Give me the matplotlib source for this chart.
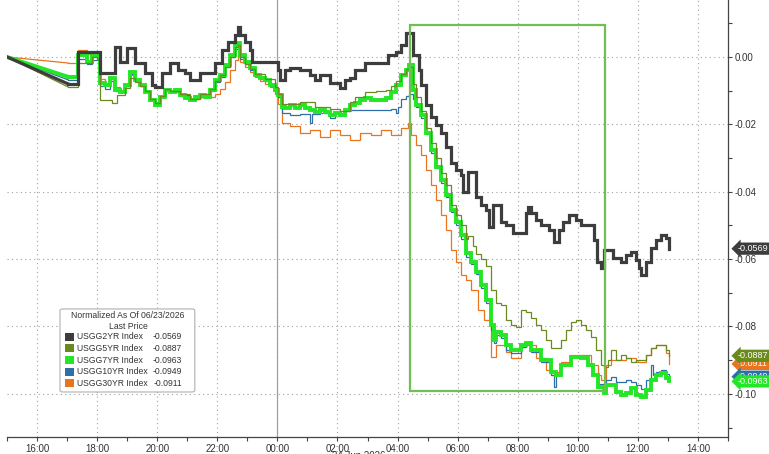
import matplotlib
matplotlib.use("Agg")
import matplotlib.pyplot as plt
import matplotlib.dates as mdates
import matplotlib.ticker as mticker
import pandas as pd
from matplotlib.patches import Rectangle, FancyBboxPatch

plt.rcParams["font.family"] = ["Liberation Sans", "DejaVu Sans"]

# normalized yield change since 06/23/2026 (time, value)
usgg2yr = [
    ("15:00", 0.0), ("17:02", -0.0080), ("17:22", 0.0015), ("18:00", 0.0015),
    ("18:06", -0.0047), ("18:36", 0.0030), ("18:46", -0.0015), ("19:00", 0.0027),
    ("19:16", -0.0018), ("19:36", -0.0047), ("19:50", -0.0083), ("19:56", -0.0089),
    ("20:10", -0.0047), ("20:26", -0.0018), ("20:42", -0.0039), ("20:56", -0.0047),
    ("21:06", -0.0068), ("21:26", -0.0047), ("21:56", -0.0018), ("22:10", 0.0021),
    ("22:22", 0.0045), ("22:36", 0.0065), ("22:42", 0.0089), ("22:46", 0.0065),
    ("22:56", 0.0045), ("23:06", 0.0021), ("23:10", -0.0015), ("00:02", -0.0039),
    ("00:06", -0.0068), ("00:16", -0.0039), ("00:26", -0.0033), ("00:46", -0.0039),
    ("01:06", -0.0053), ("01:16", -0.0068), ("01:26", -0.0053), ("01:46", -0.0077),
    ("02:06", -0.0092), ("02:16", -0.0068), ("02:26", -0.0062), ("02:36", -0.0039),
    ("02:56", -0.0018), ("03:40", 0.0006), ("03:56", 0.0015), ("04:06", 0.0036),
    ("04:16", 0.0071), ("04:30", 0.0006), ("04:42", -0.0039), ("04:46", -0.0083),
    ("04:56", -0.0142), ("05:06", -0.0178), ("05:16", -0.0202), ("05:26", -0.0226),
    ("05:36", -0.0267), ("05:46", -0.0315), ("05:56", -0.0335), ("06:06", -0.0350),
    ("06:10", -0.0401), ("06:20", -0.0341), ("06:36", -0.0415), ("06:46", -0.0439),
    ("06:56", -0.0454), ("07:02", -0.0504), ("07:10", -0.0439), ("07:26", -0.0490),
    ("07:36", -0.0499), ("07:50", -0.0522), ("08:16", -0.0463), ("08:20", -0.0445),
    ("08:26", -0.0463), ("08:36", -0.0484), ("08:46", -0.0499), ("09:02", -0.0513),
    ("09:12", -0.0549), ("09:22", -0.0513), ("09:30", -0.0490), ("09:42", -0.0469),
    ("09:56", -0.0484), ("10:06", -0.0499), ("10:32", -0.0543), ("10:38", -0.0608),
    ("10:46", -0.0626), ("10:52", -0.0573), ("11:10", -0.0596), ("11:26", -0.0608),
    ("11:36", -0.0588), ("11:46", -0.0579), ("11:56", -0.0602), ("12:02", -0.0626),
    ("12:06", -0.0647), ("12:16", -0.0608), ("12:26", -0.0567), ("12:36", -0.0543),
    ("12:46", -0.0528), ("12:56", -0.0537), ("13:02", -0.0569),
]

usgg5yr = [
    ("15:00", 0.0), ("17:02", -0.0089), ("17:22", -0.0018), ("17:50", 0.0),
    ("18:00", -0.0005), ("18:06", -0.0128), ("18:30", -0.0136), ("18:40", -0.0113),
    ("18:56", -0.0092), ("19:06", -0.0062), ("19:16", -0.0075), ("19:26", -0.0085),
    ("19:36", -0.0100), ("19:46", -0.0125), ("19:56", -0.0138), ("20:06", -0.0115),
    ("20:16", -0.0095), ("20:26", -0.0100), ("20:46", -0.0110), ("21:06", -0.0125),
    ("21:26", -0.0110), ("21:46", -0.0095), ("21:56", -0.0070), ("22:06", -0.0055),
    ("22:16", -0.0030), ("22:26", 0.0), ("22:36", 0.0030), ("22:42", 0.0035),
    ("22:46", 0.0), ("22:56", -0.0020), ("23:06", -0.0035), ("23:16", -0.0050),
    ("23:36", -0.0065), ("23:56", -0.0090), ("00:02", -0.0110), ("00:10", -0.0140),
    ("00:46", -0.0135), ("01:16", -0.0150), ("01:46", -0.0155), ("02:06", -0.0160),
    ("02:26", -0.0135), ("02:36", -0.0120), ("02:56", -0.0105), ("03:16", -0.0100),
    ("03:36", -0.0098), ("03:46", -0.0085), ("03:56", -0.0070), ("04:06", -0.0050),
    ("04:16", -0.0035), ("04:22", -0.0030), ("04:30", -0.0080), ("04:36", -0.0120),
    ("04:46", -0.0160), ("04:56", -0.0210), ("05:06", -0.0255), ("05:16", -0.0300),
    ("05:26", -0.0345), ("05:36", -0.0380), ("05:46", -0.0440), ("05:56", -0.0470),
    ("06:06", -0.0500), ("06:16", -0.0540), ("06:20", -0.0530), ("06:30", -0.0560),
    ("06:36", -0.0585), ("06:46", -0.0600), ("06:56", -0.0620), ("07:06", -0.0691),
    ("07:16", -0.0730), ("07:26", -0.0736), ("07:36", -0.0780), ("07:46", -0.0795),
    ("07:56", -0.0801), ("08:06", -0.0751), ("08:16", -0.0757), ("08:26", -0.0774),
    ("08:36", -0.0795), ("08:46", -0.0810), ("08:56", -0.0840), ("09:06", -0.0864),
    ("09:26", -0.0840), ("09:36", -0.0810), ("09:46", -0.0786), ("09:56", -0.0780),
    ("10:06", -0.0795), ("10:16", -0.0810), ("10:26", -0.0831), ("10:36", -0.0869),
    ("10:46", -0.0914), ("10:52", -0.0920), ("11:00", -0.0899), ("11:06", -0.0869),
    ("11:16", -0.0899), ("11:26", -0.0884), ("11:36", -0.0893), ("11:46", -0.0905),
    ("11:56", -0.0899), ("12:16", -0.0884), ("12:26", -0.0864), ("12:36", -0.0855),
    ("12:56", -0.0869), ("13:02", -0.0887),
]

usgg7yr = [
    ("15:00", 0.0), ("17:02", -0.0059), ("17:22", 0.0006), ("17:40", -0.0015),
    ("17:50", 0.0003), ("18:06", -0.0077), ("18:16", -0.0083), ("18:26", -0.0062),
    ("18:36", -0.0098), ("18:46", -0.0104), ("18:56", -0.0083), ("19:06", -0.0045),
    ("19:16", -0.0068), ("19:26", -0.0083), ("19:36", -0.0104), ("19:46", -0.0128),
    ("19:56", -0.0142), ("20:06", -0.0119), ("20:16", -0.0098), ("20:26", -0.0104),
    ("20:36", -0.0098), ("20:46", -0.0113), ("20:56", -0.0122), ("21:06", -0.0128),
    ("21:16", -0.0119), ("21:26", -0.0113), ("21:36", -0.0119), ("21:46", -0.0098),
    ("21:56", -0.0068), ("22:06", -0.0053), ("22:16", -0.0024), ("22:26", 0.0006),
    ("22:36", 0.0036), ("22:42", 0.0042), ("22:46", 0.0006), ("22:56", -0.0015),
    ("23:06", -0.0033), ("23:16", -0.0053), ("23:26", -0.0062), ("23:36", -0.0068),
    ("23:46", -0.0083), ("23:56", -0.0098), ("00:02", -0.0113), ("00:10", -0.0148),
    ("00:16", -0.0151), ("00:26", -0.0142), ("00:36", -0.0151), ("00:46", -0.0142),
    ("00:56", -0.0151), ("01:06", -0.0157), ("01:16", -0.0163), ("01:26", -0.0157),
    ("01:36", -0.0163), ("01:46", -0.0172), ("01:56", -0.0166), ("02:06", -0.0172),
    ("02:16", -0.0157), ("02:26", -0.0142), ("02:36", -0.0136), ("02:46", -0.0128),
    ("02:56", -0.0122), ("03:06", -0.0128), ("03:36", -0.0122), ("03:46", -0.0104),
    ("03:56", -0.0083), ("04:06", -0.0053), ("04:16", -0.0039), ("04:22", -0.0024),
    ("04:30", -0.0098), ("04:36", -0.0142), ("04:46", -0.0172), ("04:56", -0.0226),
    ("05:06", -0.0276), ("05:16", -0.0326), ("05:26", -0.0365), ("05:36", -0.0409),
    ("05:46", -0.0454), ("05:56", -0.0490), ("06:06", -0.0528), ("06:16", -0.0582),
    ("06:26", -0.0608), ("06:36", -0.0638), ("06:46", -0.0677), ("06:56", -0.0721),
    ("07:06", -0.0795), ("07:12", -0.0840), ("07:16", -0.0815), ("07:26", -0.0825),
    ("07:36", -0.0855), ("07:46", -0.0869), ("08:06", -0.0855), ("08:16", -0.0849),
    ("08:26", -0.0869), ("08:46", -0.0899), ("09:06", -0.0935), ("09:16", -0.0944),
    ("09:26", -0.0914), ("09:46", -0.0890), ("10:06", -0.0893), ("10:20", -0.0914),
    ("10:30", -0.0944), ("10:40", -0.0979), ("10:52", -0.0997), ("10:56", -0.0973),
    ("11:16", -0.0994), ("11:26", -0.1003), ("11:36", -0.0997), ("11:46", -0.0982),
    ("11:56", -0.1003), ("12:06", -0.1009), ("12:16", -0.0988), ("12:26", -0.0958),
    ("12:36", -0.0944), ("12:46", -0.0938), ("12:56", -0.0953), ("13:02", -0.0963),
]

usgg10yr = [
    ("15:00", 0.0), ("17:02", -0.0068), ("17:22", -0.0005), ("17:40", -0.0020),
    ("17:50", -0.0010), ("18:06", -0.0085), ("18:16", -0.0095), ("18:26", -0.0070),
    ("18:36", -0.0100), ("18:46", -0.0105), ("18:56", -0.0085), ("19:06", -0.0050),
    ("19:16", -0.0070), ("19:26", -0.0085), ("19:36", -0.0105), ("19:46", -0.0128),
    ("19:56", -0.0140), ("20:06", -0.0120), ("20:16", -0.0100), ("20:26", -0.0105),
    ("20:36", -0.0100), ("20:46", -0.0112), ("21:06", -0.0128), ("21:16", -0.0120),
    ("21:26", -0.0112), ("21:36", -0.0120), ("21:46", -0.0100), ("21:56", -0.0075),
    ("22:06", -0.0060), ("22:16", -0.0030), ("22:26", 0.0), ("22:36", 0.0025),
    ("22:42", 0.0030), ("22:46", -0.0005), ("22:56", -0.0020), ("23:06", -0.0040),
    ("23:16", -0.0055), ("23:26", -0.0065), ("23:36", -0.0070), ("23:46", -0.0085),
    ("23:56", -0.0100), ("00:02", -0.0120), ("00:10", -0.0165), ("00:26", -0.0172),
    ("00:46", -0.0168), ("01:06", -0.0195), ("01:10", -0.0168), ("01:26", -0.0165),
    ("01:46", -0.0180), ("01:56", -0.0166), ("02:16", -0.0160), ("02:26", -0.0157),
    ("03:46", -0.0155), ("03:56", -0.0165), ("04:00", -0.0150), ("04:06", -0.0125),
    ("04:16", -0.0115), ("04:22", -0.0110), ("04:30", -0.0125), ("04:36", -0.0150),
    ("04:46", -0.0180), ("04:56", -0.0230), ("05:06", -0.0285), ("05:16", -0.0330),
    ("05:26", -0.0375), ("05:36", -0.0415), ("05:46", -0.0460), ("05:56", -0.0500),
    ("06:06", -0.0540), ("06:16", -0.0595), ("06:26", -0.0615), ("06:36", -0.0645),
    ("06:46", -0.0685), ("06:56", -0.0730), ("07:06", -0.0810), ("07:12", -0.0850),
    ("07:16", -0.0825), ("07:26", -0.0835), ("07:36", -0.0870), ("07:46", -0.0880),
    ("08:06", -0.0860), ("08:16", -0.0850), ("08:26", -0.0875), ("08:46", -0.0905),
    ("09:06", -0.0945), ("09:12", -0.0979), ("09:16", -0.0945), ("09:26", -0.0912),
    ("09:46", -0.0888), ("10:06", -0.0890), ("10:20", -0.0912), ("10:30", -0.0940),
    ("10:40", -0.0970), ("10:52", -0.0985), ("10:56", -0.0960), ("11:06", -0.0950),
    ("11:16", -0.0965), ("11:36", -0.0960), ("11:46", -0.0965), ("11:56", -0.0975),
    ("12:06", -0.0985), ("12:16", -0.0960), ("12:26", -0.0915), ("12:30", -0.0945),
    ("12:36", -0.0935), ("12:46", -0.0930), ("12:56", -0.0940), ("13:02", -0.0949),
]

usgg30yr = [
    ("15:00", 0.0), ("17:02", -0.0018), ("17:22", 0.0021), ("17:40", 0.0010),
    ("17:50", 0.0015), ("18:00", 0.0005), ("18:06", -0.0065), ("18:16", -0.0080),
    ("18:26", -0.0065), ("18:36", -0.0090), ("18:46", -0.0100), ("18:56", -0.0085),
    ("19:06", -0.0055), ("19:16", -0.0070), ("19:26", -0.0085), ("19:36", -0.0100),
    ("19:46", -0.0125), ("19:56", -0.0135), ("20:06", -0.0118), ("20:16", -0.0100),
    ("20:26", -0.0105), ("20:46", -0.0115), ("21:06", -0.0125), ("21:26", -0.0120),
    ("21:56", -0.0110), ("22:06", -0.0095), ("22:16", -0.0075), ("22:26", -0.0040),
    ("22:36", -0.0010), ("22:42", 0.0006), ("22:46", -0.0015), ("22:56", -0.0030),
    ("23:06", -0.0045), ("23:16", -0.0060), ("23:26", -0.0070), ("23:36", -0.0080),
    ("23:46", -0.0090), ("23:56", -0.0110), ("00:02", -0.0140), ("00:10", -0.0196),
    ("00:26", -0.0205), ("00:46", -0.0226), ("01:06", -0.0217), ("01:26", -0.0237),
    ("01:46", -0.0217), ("02:06", -0.0231), ("02:26", -0.0246), ("02:46", -0.0226),
    ("03:06", -0.0231), ("03:26", -0.0217), ("03:46", -0.0231), ("04:06", -0.0210),
    ("04:20", -0.0195), ("04:26", -0.0231), ("04:36", -0.0261), ("04:46", -0.0291),
    ("04:56", -0.0335), ("05:06", -0.0380), ("05:16", -0.0424), ("05:26", -0.0469),
    ("05:36", -0.0513), ("05:46", -0.0573), ("05:56", -0.0608), ("06:06", -0.0647),
    ("06:16", -0.0662), ("06:26", -0.0691), ("06:40", -0.0751), ("06:52", -0.0780),
    ("07:06", -0.0890), ("07:16", -0.0855), ("07:36", -0.0875), ("07:46", -0.0893),
    ("08:06", -0.0855), ("08:36", -0.0893), ("08:56", -0.0929), ("09:06", -0.0944),
    ("09:16", -0.0935), ("09:26", -0.0905), ("09:46", -0.0884), ("10:26", -0.0914),
    ("10:40", -0.0944), ("10:46", -0.0958), ("10:56", -0.0914), ("11:06", -0.0899),
    ("11:36", -0.0893), ("11:56", -0.0905), ("12:16", -0.0884), ("12:26", -0.0864),
    ("12:36", -0.0855), ("12:56", -0.0880), ("13:02", -0.0911),
]

names = ["USGG2YR Index", "USGG5YR Index", "USGG7YR Index",
         "USGG10YR Index", "USGG30YR Index"]
last_price = [-0.0569, -0.0887, -0.0963, -0.0949, -0.0911]
colors = ["#3d3d3d", "#6a8a1e", "#22e626", "#2e6fa7", "#e8741e"]
widths = [2.3, 0.9, 2.8, 0.9, 0.9]
series = [usgg2yr, usgg5yr, usgg7yr, usgg10yr, usgg30yr]

# highlighted window (green box)
box_start, box_end = "04:24", "10:54"
box_top, box_bottom = 0.0095, -0.0991

BASE = pd.Timestamp("2026-06-23")


def to_time(hhmm):
    h, m = map(int, hhmm.split(":"))
    day = 0 if h >= 15 else 1
    return (BASE + pd.Timedelta(days=day, hours=h, minutes=m)).to_pydatetime()


fig = plt.figure(figsize=(7.69, 4.54), dpi=100)
ax = fig.add_axes([7 / 769, 17 / 454, 721 / 769, 437 / 454])

tick_color = "#333333"
grid_kw = dict(color="#a0a0a0", linestyle=(0, (1, 3)), linewidth=0.8)

# draw order: orange, blue, green, olive, dark
for i in [4, 3, 2, 1, 0]:
    t = [to_time(p[0]) for p in series[i]]
    v = [p[1] for p in series[i]]
    # gap at the start is bridged with a straight line, the rest are ticks
    ax.plot(t[:2], v[:2], color=colors[i], lw=widths[i], solid_joinstyle="miter")
    ax.plot(t[1:], v[1:], color=colors[i], lw=widths[i], drawstyle="steps-post",
            solid_joinstyle="miter")

x0, x1 = mdates.date2num(to_time(box_start)), mdates.date2num(to_time(box_end))
ax.add_patch(Rectangle((x0, box_bottom), x1 - x0, box_top - box_bottom,
                       fill=False, edgecolor="#6fbf54", lw=1.6, zorder=5))

ax.set_xlim(to_time("15:00"), BASE + pd.Timedelta(days=1, hours=15))
ax.set_ylim(-0.1128, 0.0169)

ax.axvline(to_time("00:00"), color="#a0a0a0", lw=0.9, zorder=0)

ax.xaxis.set_major_locator(mdates.HourLocator(byhour=range(0, 24, 2)))
ax.xaxis.set_minor_locator(mdates.HourLocator())
ax.xaxis.set_major_formatter(mdates.DateFormatter("%H:%M"))
ax.yaxis.tick_right()
ax.yaxis.set_major_locator(mticker.MultipleLocator(0.02))
ax.yaxis.set_minor_locator(mticker.MultipleLocator(0.01))
ax.yaxis.set_major_formatter(
    mticker.FuncFormatter(lambda v, _: f"{round(v, 2) + 0:.2f}"))
ax.grid(which="major", **grid_kw)
ax.set_axisbelow(True)

ax.tick_params(axis="both", which="both", colors="#444444", labelcolor=tick_color,
               labelsize=7, length=3, width=0.8)
ax.tick_params(axis="x", pad=2)
ax.tick_params(axis="y", pad=2)
for s in ["top", "left"]:
    ax.spines[s].set_visible(False)
for s in ["right", "bottom"]:
    ax.spines[s].set_color("#444444")
    ax.spines[s].set_linewidth(0.9)

ax.text(0.488, -0.031, "24 Jun 2026", transform=ax.transAxes, ha="center",
        va="top", fontsize=7, color=tick_color)

# legend drawn by hand to match the terminal style
tr = ax.transAxes
ax.add_patch(FancyBboxPatch((0.0735, 0.103), 0.187, 0.19,
                            boxstyle="round,pad=0,rounding_size=0.004",
                            transform=tr, fc="white", ec="#b0b0b0", lw=0.8,
                            zorder=6))
ax.text(0.1678, 0.277, "Normalized As Of 06/23/2026", transform=tr, ha="center",
        va="center", fontsize=6.2, color=tick_color, zorder=7)
ax.text(0.1678, 0.252, "Last Price", transform=tr, ha="center", va="center",
        fontsize=6.2, color=tick_color, zorder=7)
row_y = 0.229
for name, val, col in zip(names, last_price, colors):
    ax.add_patch(Rectangle((0.0804, row_y - 0.0092), 0.0125, 0.0183,
                           transform=tr, fc=col, ec="none", zorder=7))
    ax.text(0.0971, row_y, name, transform=tr, ha="left", va="center",
            fontsize=6.2, color=tick_color, zorder=7)
    ax.text(0.2427, row_y, f"{val:.4f}", transform=tr, ha="right", va="center",
            fontsize=6.2, color=tick_color, zorder=7)
    row_y -= 0.0264

# last value tags on the right axis
tag_order = [4, 1, 3, 2, 0]
for i in tag_order:
    ax.annotate(f"{last_price[i]:.4f}", xy=(1.0, last_price[i]),
                xycoords=("axes fraction", "data"),
                xytext=(1.0139, last_price[i]),
                textcoords=("axes fraction", "data"),
                ha="left", va="center", fontsize=6.5, color="white",
                bbox=dict(boxstyle="larrow,pad=0.18", fc=colors[i], ec="none"),
                annotation_clip=False, zorder=8)

fig.savefig("out.png", dpi=100)
